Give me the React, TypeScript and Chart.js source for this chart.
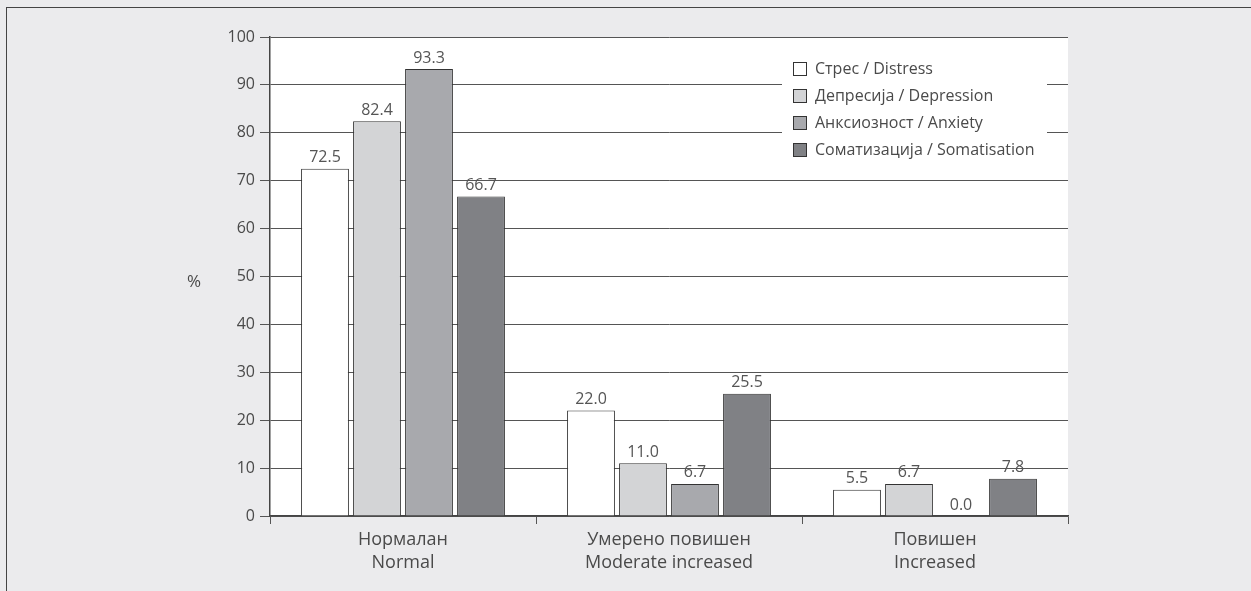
import React, { useEffect, useRef } from "react";
import { Chart, registerables } from "chart.js";

Chart.register(...registerables);

const categories: string[][] = [
  ["Нормалан", "Normal"],
  ["Умерено повишен", "Moderate increased"],
  ["Повишен", "Increased"],
];
const seriesNames = [
  "Стрес / Distress",
  "Депресија / Depression",
  "Анксиозност / Anxiety",
  "Соматизација / Somatisation",
];
const distress = [72.5, 22.0, 5.5];
const depression = [82.4, 11.0, 6.7];
const anxiety = [93.3, 6.7, 0.0];
const somatisation = [66.7, 25.5, 7.8];
const seriesColors = ["#FFFFFF", "#D3D4D6", "#A8A9AD", "#808185"];
const yTicks = [0, 10, 20, 30, 40, 50, 60, 70, 80, 90, 100];

const FONT = "'Open Sans', 'Noto Sans', sans-serif";
const TEXT = "#4a4a4a";

const overlayPlugin = {
  id: "overlay",
  afterDatasetsDraw(chart: any) {
    const ctx = chart.ctx;
    ctx.save();
    // data labels
    ctx.font = `16px ${FONT}`;
    ctx.fillStyle = "#555";
    ctx.textAlign = "center";
    ctx.textBaseline = "bottom";
    chart.data.datasets.forEach((ds: any, i: number) => {
      const meta = chart.getDatasetMeta(i);
      meta.data.forEach((bar: any, j: number) => {
        const v = ds.data[j];
        ctx.fillText(v.toFixed(1), bar.x, bar.y - 3);
      });
    });
    // legend box
    ctx.fillStyle = "#FFFFFF";
    ctx.fillRect(782, 50, 265, 112);
    const rowY = [69, 96, 123, 150];
    ctx.font = `16px ${FONT}`;
    ctx.textAlign = "left";
    ctx.textBaseline = "middle";
    seriesNames.forEach((name, i) => {
      const y = rowY[i];
      ctx.fillStyle = seriesColors[i];
      ctx.fillRect(793.5, y - 6.5, 13, 13);
      ctx.strokeStyle = "#333";
      ctx.lineWidth = 1;
      ctx.strokeRect(793.5, y - 6.5, 13, 13);
      ctx.fillStyle = TEXT;
      ctx.fillText(name, 815, y);
    });
    // y axis title
    ctx.font = `17px ${FONT}`;
    ctx.textAlign = "center";
    ctx.fillStyle = TEXT;
    ctx.fillText("%", 194, 282);
    ctx.restore();
  },
};

export default function App() {
  const ref = useRef<HTMLCanvasElement | null>(null);
  useEffect(() => {
    document.body.style.margin = "0";
    const canvas = ref.current!;
    const values = [distress, depression, anxiety, somatisation];
    const chart = new Chart(canvas, {
      type: "bar",
      data: {
        labels: categories,
        datasets: values.map((d, i) => ({
          label: seriesNames[i],
          data: d,
          backgroundColor: seriesColors[i],
          borderColor: "#333",
          borderWidth: 1,
          categoryPercentage: 0.782,
          barPercentage: 0.92,
        })),
      },
      options: {
        animation: false,
        responsive: false,
        maintainAspectRatio: false,
        layout: { padding: { left: 0, top: 37, right: 183, bottom: 0 } },
        plugins: { legend: { display: false }, tooltip: { enabled: false } },
        scales: {
          x: {
            offset: true,
            grid: {
              offset: true,
              drawOnChartArea: false,
              drawTicks: true,
              tickLength: 8,
              color: "#555",
            },
            border: { color: "#444", width: 1.5 },
            ticks: {
              color: TEXT,
              font: { family: FONT, size: 18, lineHeight: 1.25 },
              padding: 5,
              maxRotation: 0,
            },
            afterFit(scale: any) {
              scale.height = 75;
            },
          },
          y: {
            min: 0,
            max: 100,
            afterBuildTicks(scale: any) {
              scale.ticks = yTicks.map((v) => ({ value: v }));
            },
            grid: { color: "#555", lineWidth: 1, tickLength: 10 },
            border: { color: "#444", width: 1.5 },
            ticks: {
              color: TEXT,
              font: { family: FONT, size: 16 },
              padding: 5,
            },
            afterFit(scale: any) {
              scale.width = 270;
            },
          },
        },
      },
      plugins: [
        {
          id: "bgArea",
          beforeDraw(c: any) {
            const a = c.chartArea;
            c.ctx.save();
            c.ctx.fillStyle = "#FFFFFF";
            c.ctx.fillRect(a.left, a.top, a.right - a.left, a.bottom - a.top);
            c.ctx.restore();
          },
        },
        overlayPlugin,
      ],
    } as any);
    return () => chart.destroy();
  }, []);
  return (
    <div
      style={{
        position: "fixed",
        left: 0,
        top: 0,
        width: 1251,
        height: 591,
        background: "#EBEBED",
        overflow: "hidden",
      }}
    >
      <div
        style={{
          position: "absolute",
          left: 6,
          top: 7,
          width: 1300,
          height: 700,
          borderTop: "1.5px solid #444",
          borderLeft: "1.5px solid #444",
        }}
      />
      <canvas
        ref={ref}
        width={1251}
        height={591}
        style={{ position: "absolute", left: 0, top: 0, width: 1251, height: 591 }}
      />
    </div>
  );
}
